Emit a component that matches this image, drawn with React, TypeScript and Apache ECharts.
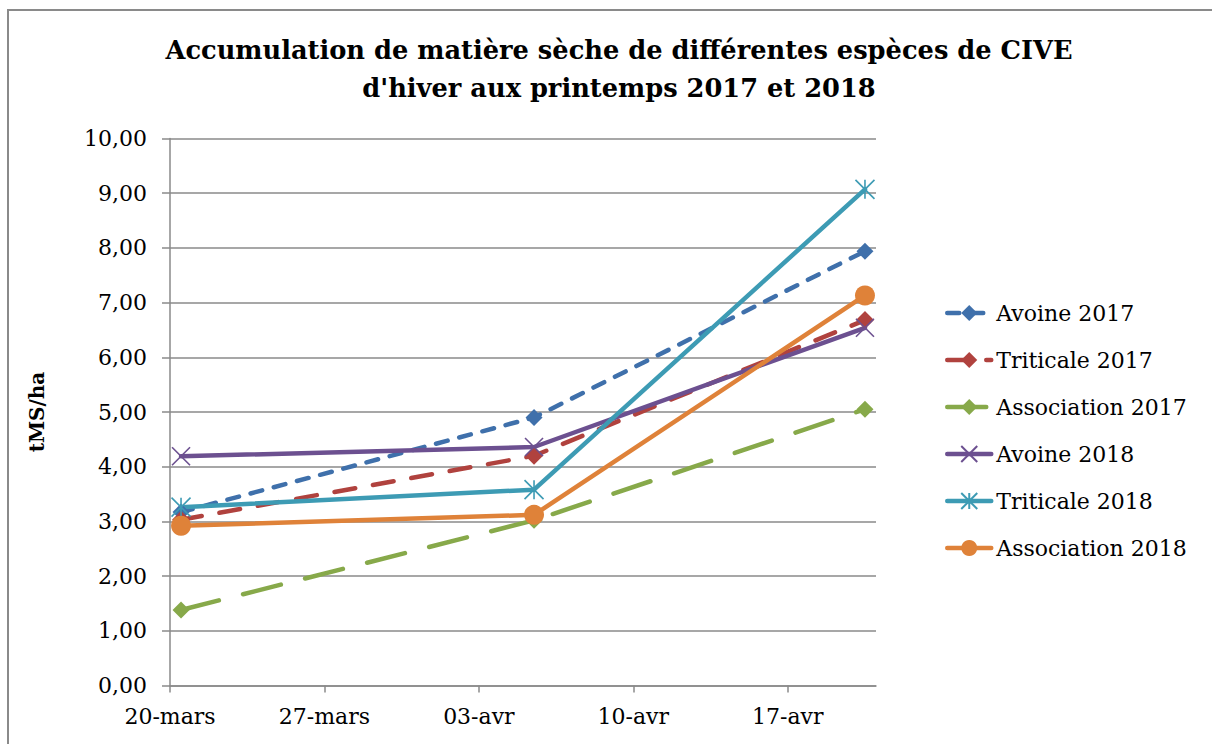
import React, { useEffect, useRef } from 'react';
import * as echarts from 'echarts';

// ---- data ----
const sampleDates = ['2018-03-20', '2018-04-05', '2018-04-20'];
const avoine2017 = [3.17, 4.9, 7.94];
const triticale2017 = [3.03, 4.2, 6.68];
const association2017 = [1.38, 3.02, 5.05];
const avoine2018 = [4.19, 4.36, 6.54];
const triticale2018 = [3.26, 3.58, 9.07];
const association2018 = [2.92, 3.12, 7.13];

const axisStart = '2018-03-20';
const axisEnd = '2018-04-21';
const tickDates = ['2018-03-20', '2018-03-27', '2018-04-03', '2018-04-10', '2018-04-17'];
const monthNames = ['janv', 'févr', 'mars', 'avr', 'mai', 'juin', 'juil', 'août', 'sept', 'oct', 'nov', 'déc'];

const titleText = 'Accumulation de matière sèche de différentes espèces de CIVE\nd\'hiver aux printemps 2017 et 2018';
const yAxisName = 'tMS/ha';

const DAY = 86400000;
const toTime = (s: string) => Date.parse(s + 'T00:00:00Z');
// Excel date axis: each date sits in the middle of its day slot
const midDay = (s: string) => toTime(s) + DAY / 2;
const fmtDate = (v: number) => {
  const d = new Date(v);
  const dd = String(d.getUTCDate()).padStart(2, '0');
  return dd + '-' + monthNames[d.getUTCMonth()];
};

const GRAY = '#8a8a8a';
const FONT = 'DejaVu Serif';

const X_PATH = 'path://M0 0L10 10M10 0L0 10';
const STAR_PATH = 'path://M0 0L10 10M10 0L0 10M5 0L5 10';

type SDef = {
  name: string;
  values: number[];
  color: string;
  dash: number[] | 'solid';
  symbol: string;
  size: number;
  stroke?: boolean;
};

const seriesDefs: SDef[] = [
  { name: 'Avoine 2017', values: avoine2017, color: '#3f70ab', dash: [12, 12], symbol: 'diamond', size: 17 },
  { name: 'Triticale 2017', values: triticale2017, color: '#b0423e', dash: [21, 18], symbol: 'diamond', size: 18 },
  { name: 'Association 2017', values: association2017, color: '#87a94a', dash: [39, 25], symbol: 'diamond', size: 17 },
  { name: 'Avoine 2018', values: avoine2018, color: '#6c5090', dash: 'solid', symbol: X_PATH, size: 18, stroke: true },
  { name: 'Triticale 2018', values: triticale2018, color: '#3d9bb4', dash: 'solid', symbol: STAR_PATH, size: 19, stroke: true },
  { name: 'Association 2018', values: association2018, color: '#df8239', dash: 'solid', symbol: 'circle', size: 20 },
];

export default function App() {
  const ref = useRef<HTMLDivElement>(null);
  useEffect(() => {
    if (!ref.current) return;
    const chart = echarts.init(ref.current, undefined, { renderer: 'svg' });
    const option: any = {
      animation: false,
      backgroundColor: '#ffffff',
      title: {
        text: titleText,
        left: 614,
        top: 26,
        textAlign: 'center',
        textStyle: { fontFamily: FONT, fontWeight: 'bold', fontSize: 25.7, lineHeight: 38, color: '#000' },
      },
      graphic: [
        {
          type: 'rect',
          shape: { x: 8, y: 10, width: 1240, height: 800 },
          style: { fill: 'none', stroke: GRAY, lineWidth: 2 },
          silent: true,
        },
      ],
      legend: {
        orient: 'vertical',
        left: 940,
        top: 296,
        itemWidth: 44,
        itemHeight: 20,
        itemGap: 23,
        lineStyle: { width: 4.5 },
        textStyle: { fontFamily: FONT, fontSize: 22, color: '#000', lineHeight: 24 },
        data: seriesDefs.map((s) => s.name),
      },
      grid: { left: 170, right: 336, top: 138.5, bottom: 58.5, containLabel: false, outerBoundsMode: 'none' },
      xAxis: {
        type: 'value',
        min: toTime(axisStart),
        max: toTime(axisEnd),
        axisLine: { show: true, lineStyle: { color: GRAY, width: 1.5 } },
        axisTick: { show: true, length: 7, customValues: tickDates.map(toTime), lineStyle: { color: GRAY, width: 1.5 } },
        axisLabel: {
          customValues: tickDates.map(toTime),
          formatter: (v: number) => fmtDate(v),
          fontFamily: FONT,
          fontSize: 22,
          color: '#000',
          margin: 20,
        },
        splitLine: { show: false },
      },
      yAxis: {
        type: 'value',
        min: 0,
        max: 10,
        interval: 1,
        name: yAxisName,
        nameLocation: 'middle',
        nameRotate: 90,
        nameGap: 123,
        nameTextStyle: { fontFamily: FONT, fontWeight: 'bold', fontSize: 20, color: '#000' },
        axisLine: { show: true, lineStyle: { color: GRAY, width: 1.5 } },
        axisTick: { show: true, length: 8, lineStyle: { color: GRAY, width: 1.5 } },
        axisLabel: {
          formatter: (v: number) => v.toFixed(2).replace('.', ','),
          fontFamily: FONT,
          fontSize: 22,
          color: '#000',
          margin: 23,
        },
        splitLine: { show: true, lineStyle: { color: GRAY, width: 1.5 } },
      },
      series: seriesDefs.map((s) => ({
        name: s.name,
        type: 'line',
        data: sampleDates.map((d, i) => [midDay(d), s.values[i]]),
        symbol: s.symbol,
        symbolSize: s.size,
        showSymbol: true,
        lineStyle: { color: s.color, width: 4.5, type: s.dash, cap: 'round', join: 'round' },
        itemStyle: {
          color: s.color,
          borderColor: s.color,
          borderWidth: s.stroke ? 1.6 : 0,
          opacity: 1,
        },
        emphasis: { disabled: true },
      })),
    };
    chart.setOption(option);
    return () => chart.dispose();
  }, []);
  return (
    <div
      ref={ref}
      style={{ position: 'fixed', left: 0, top: 0, width: 1212, height: 744, background: '#fff' }}
    />
  );
}
